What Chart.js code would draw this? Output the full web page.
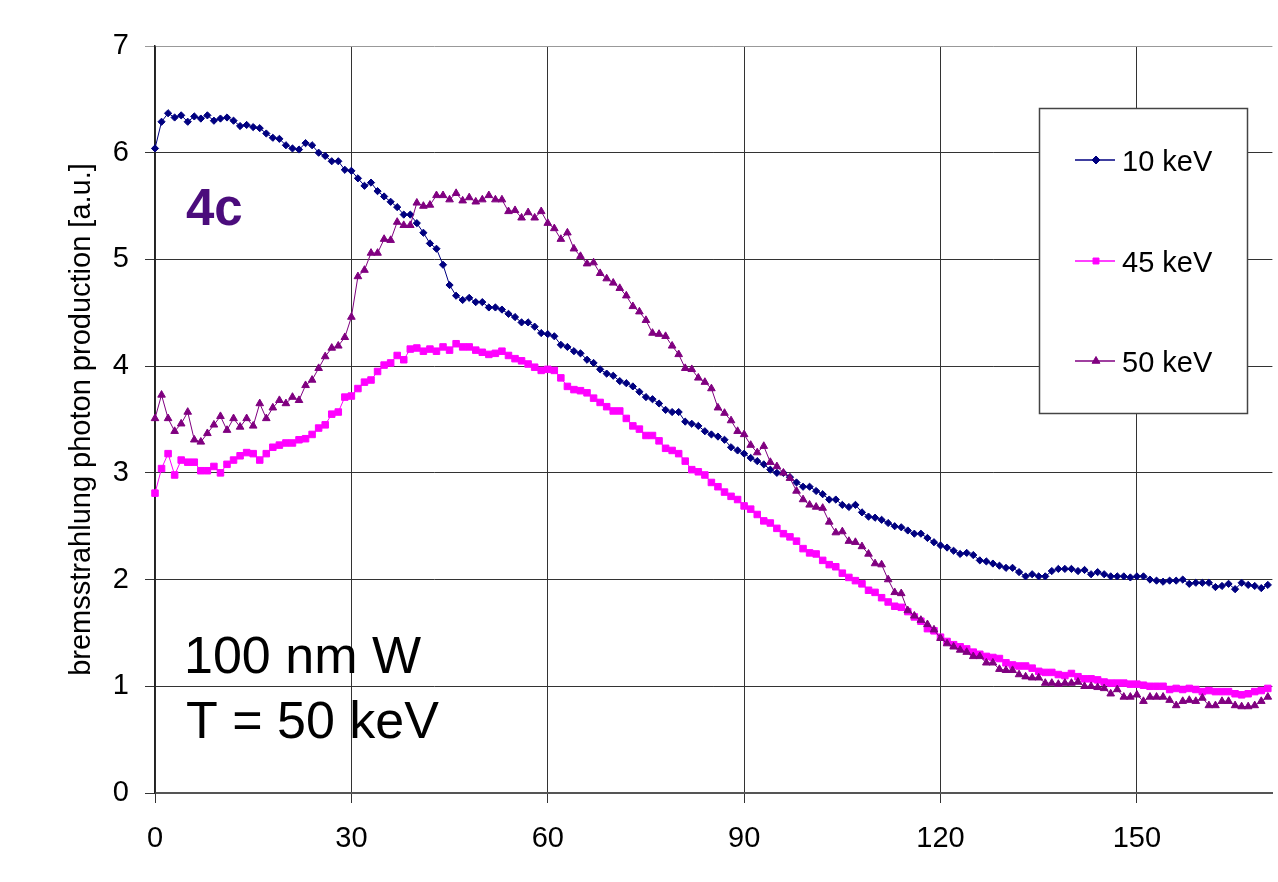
<!DOCTYPE html>
<html><head><meta charset="utf-8">
<script src="https://cdn.jsdelivr.net/npm/chart.js@4.4.1/dist/chart.umd.min.js"></script>
<style>html,body{margin:0;padding:0;background:#fff;overflow:hidden}#wrap{width:1278px;height:882px;position:relative}</style>
</head><body><div id="wrap"><canvas id="c" width="1278" height="882"></canvas></div>
<script>
const depth = [0,1,2,3,4,5,6,7,8,9,10,11,12,13,14,15,16,17,18,19,20,21,22,23,24,25,26,27,28,29,30,31,32,33,34,35,36,37,38,39,40,41,42,43,44,45,46,47,48,49,50,51,52,53,54,55,56,57,58,59,60,61,62,63,64,65,66,67,68,69,70,71,72,73,74,75,76,77,78,79,80,81,82,83,84,85,86,87,88,89,90,91,92,93,94,95,96,97,98,99,100,101,102,103,104,105,106,107,108,109,110,111,112,113,114,115,116,117,118,119,120,121,122,123,124,125,126,127,128,129,130,131,132,133,134,135,136,137,138,139,140,141,142,143,144,145,146,147,148,149,150,151,152,153,154,155,156,157,158,159,160,161,162,163,164,165,166,167,168,169,170];

const keV10 = [6.04,6.29,6.37,6.33,6.35,6.29,6.34,6.32,6.35,6.30,6.32,6.33,6.30,6.25,6.26,6.24,6.23,6.18,6.14,6.13,6.07,6.04,6.03,6.09,6.07,6.00,5.97,5.92,5.92,5.84,5.83,
5.76,5.69,5.72,5.64,5.59,5.54,5.49,5.42,5.42,5.34,5.25,5.15,5.10,4.95,4.76,4.66,4.62,4.64,4.60,4.60,4.55,4.55,4.53,4.49,4.46,4.41,4.41,4.37,4.31,
4.30,4.28,4.20,4.18,4.14,4.12,4.06,4.03,3.97,3.93,3.91,3.86,3.84,3.81,3.76,3.71,3.69,3.65,3.59,3.57,3.57,3.48,3.46,3.44,3.39,3.36,3.34,3.31,3.24,3.21,3.18,
3.14,3.11,3.08,3.03,3.00,3.00,2.96,2.91,2.87,2.87,2.83,2.80,2.75,2.75,2.70,2.68,2.70,2.63,2.59,2.58,2.56,2.53,2.50,2.49,2.46,2.43,2.43,2.39,2.35,
2.32,2.30,2.27,2.24,2.25,2.23,2.18,2.17,2.15,2.13,2.11,2.11,2.07,2.03,2.05,2.03,2.03,2.08,2.10,2.10,2.10,2.08,2.09,2.05,2.07,2.05,2.03,2.03,2.03,2.02,
2.03,2.03,2.00,1.99,1.98,1.99,1.99,2.00,1.96,1.97,1.97,1.97,1.93,1.94,1.96,1.91,1.97,1.95,1.94,1.92,1.95];

const keV45 = [2.81,3.04,3.18,2.98,3.12,3.10,3.10,3.02,3.02,3.06,3.00,3.08,3.12,3.16,3.19,3.18,3.12,3.18,3.24,3.26,3.28,3.28,3.31,3.32,3.36,3.42,3.45,3.55,3.57,3.71,3.72,
3.79,3.85,3.87,3.95,4.01,4.03,4.10,4.06,4.16,4.17,4.14,4.16,4.14,4.18,4.15,4.21,4.18,4.18,4.15,4.13,4.11,4.12,4.14,4.10,4.07,4.05,4.02,3.99,3.96,
3.97,3.96,3.89,3.81,3.78,3.77,3.75,3.70,3.66,3.62,3.58,3.58,3.51,3.44,3.41,3.35,3.35,3.30,3.23,3.21,3.18,3.11,3.03,3.01,2.98,2.91,2.87,2.82,2.78,2.75,2.69,
2.66,2.61,2.55,2.53,2.48,2.43,2.40,2.36,2.29,2.25,2.24,2.18,2.14,2.12,2.06,2.02,1.99,1.96,1.90,1.88,1.83,1.79,1.75,1.74,1.70,1.65,1.61,1.54,1.52,
1.46,1.42,1.39,1.37,1.35,1.32,1.30,1.28,1.27,1.26,1.22,1.20,1.19,1.19,1.17,1.14,1.13,1.13,1.11,1.10,1.12,1.09,1.07,1.07,1.06,1.04,1.03,1.03,1.03,1.02,
1.02,1.01,1.00,1.00,1.00,0.97,0.98,0.97,0.98,0.97,0.95,0.96,0.95,0.95,0.95,0.93,0.92,0.93,0.95,0.96,0.98];

const keV50 = [3.51,3.73,3.51,3.39,3.46,3.57,3.31,3.29,3.37,3.45,3.53,3.40,3.51,3.43,3.51,3.44,3.65,3.51,3.61,3.68,3.65,3.71,3.68,3.82,3.87,3.98,4.09,4.17,4.19,4.27,4.46,
4.84,4.90,5.06,5.06,5.19,5.18,5.35,5.32,5.32,5.53,5.50,5.51,5.60,5.60,5.56,5.62,5.55,5.58,5.54,5.56,5.60,5.56,5.56,5.45,5.46,5.39,5.44,5.39,5.45,5.34,
5.29,5.19,5.25,5.10,5.03,4.96,4.97,4.87,4.82,4.78,4.73,4.66,4.56,4.51,4.43,4.31,4.30,4.28,4.19,4.11,3.98,3.97,3.89,3.85,3.79,3.61,3.56,3.49,3.39,3.36,
3.26,3.19,3.25,3.10,3.06,3.00,2.95,2.83,2.75,2.70,2.68,2.67,2.54,2.44,2.45,2.36,2.35,2.31,2.24,2.15,2.14,2.00,1.88,1.87,1.71,1.66,1.62,1.58,1.53,
1.45,1.40,1.37,1.34,1.32,1.28,1.28,1.22,1.22,1.16,1.15,1.15,1.11,1.09,1.08,1.08,1.03,1.03,1.02,1.03,1.03,1.04,1.00,1.00,0.99,0.98,0.93,0.97,0.90,0.90,
0.92,0.86,0.90,0.90,0.90,0.87,0.82,0.86,0.87,0.86,0.89,0.82,0.82,0.86,0.86,0.82,0.81,0.81,0.82,0.86,0.90];

const seriesNames = ['10 keV', '45 keV', '50 keV'];
const xTicks = [0, 30, 60, 90, 120, 150];
const yTicks = [0, 1, 2, 3, 4, 5, 6, 7];
const yTitle = 'bremsstrahlung photon production [a.u.]';
const panelLabel = '4c';
const noteLines = ['100 nm W', 'T = 50 keV'];

const FONT = '"Liberation Sans", Arial, Helvetica, sans-serif';
const colors = ['#000080', '#FF00FF', '#800080'];
const styles = ['rectRot', 'rect', 'triangle'];

function pts(arr){ return depth.map((x, i) => ({x: x, y: arr[i]})); }

function drawMarker(ctx, style, x, y, r){
  ctx.beginPath();
  if (style === 'rectRot'){
    ctx.moveTo(x, y - r); ctx.lineTo(x + r, y); ctx.lineTo(x, y + r); ctx.lineTo(x - r, y);
  } else if (style === 'rect'){
    const s = r * Math.SQRT1_2;
    ctx.rect(x - s, y - s, 2 * s, 2 * s);
  } else {
    ctx.moveTo(x, y - r);
    ctx.lineTo(x + r * 0.866, y + r * 0.5);
    ctx.lineTo(x - r * 0.866, y + r * 0.5);
  }
  ctx.closePath();
  ctx.fill();
  ctx.stroke();
}

const overlay = {
  id: 'overlay',
  beforeDraw(chart){
    const ctx = chart.ctx;
    ctx.save();
    ctx.fillStyle = '#ffffff';
    ctx.fillRect(0, 0, chart.width, chart.height);
    ctx.restore();
  },
  afterDraw(chart){
    const ctx = chart.ctx;
    const area = chart.chartArea;
    ctx.save();
    // y axis title
    ctx.save();
    ctx.translate(82, (area.top + area.bottom) / 2);
    ctx.rotate(-Math.PI / 2);
    ctx.font = '29px ' + FONT;
    ctx.fillStyle = '#000';
    ctx.textAlign = 'center';
    ctx.textBaseline = 'middle';
    ctx.fillText(yTitle, 0, 0);
    ctx.restore();

    // panel label
    ctx.font = 'bold 51px ' + FONT;
    ctx.fillStyle = '#4B0C7C';
    ctx.textAlign = 'left';
    ctx.textBaseline = 'alphabetic';
    ctx.fillText(panelLabel, 186, 225);

    // notes
    ctx.font = '52px ' + FONT;
    ctx.fillStyle = '#000';
    ctx.fillText(noteLines[0], 184, 673);
    ctx.fillText(noteLines[1], 186, 738);

    // legend
    ctx.fillStyle = '#ffffff';
    ctx.fillRect(1039.5, 108.5, 208, 305);
    ctx.strokeStyle = '#444';
    ctx.lineWidth = 1.5;
    ctx.strokeRect(1039.5, 108.5, 208, 305);
    const ly = [160, 261, 361];
    const mr = [4, 4.2, 4.5];
    seriesNames.forEach((name, i) => {
      ctx.strokeStyle = colors[i];
      ctx.lineWidth = 1.5;
      ctx.beginPath();
      ctx.moveTo(1075, ly[i]);
      ctx.lineTo(1115, ly[i]);
      ctx.stroke();
      ctx.fillStyle = colors[i];
      ctx.lineWidth = 1;
      drawMarker(ctx, styles[i], 1096, ly[i], mr[i]);
      ctx.fillStyle = '#000';
      ctx.font = '29px ' + FONT;
      ctx.textBaseline = 'alphabetic';
      ctx.fillText(name, 1122, ly[i] + 11);
    });
    ctx.restore();
  }
};

const seriesData = [keV10, keV45, keV50];
const radii = [3.6, 4.6, 4.4];
const datasets = seriesData.map((arr, i) => ({
  label: seriesNames[i],
  data: pts(arr),
  borderColor: colors[i],
  backgroundColor: colors[i],
  pointBackgroundColor: colors[i],
  pointBorderColor: colors[i],
  borderWidth: 1,
  pointStyle: styles[i],
  pointRadius: radii[i],
  pointBorderWidth: 1,
  tension: 0,
  clip: false,
  order: 2 - i
}));

new Chart(document.getElementById('c'), {
  type: 'line',
  data: { datasets: datasets },
  options: {
    responsive: false,
    animation: false,
    devicePixelRatio: 1,
    layout: { padding: { top: 46, left: 0, right: 0, bottom: 0 } },
    plugins: { legend: { display: false }, tooltip: { enabled: false }, title: { display: false } },
    elements: { line: { fill: false } },
    scales: {
      x: {
        type: 'linear',
        min: 0,
        max: 170.7,
        afterBuildTicks: (s) => { s.ticks = xTicks.map(v => ({value: v})); },
        afterFit: (s) => { s.height = 89; },
        ticks: { font: { family: FONT, size: 29 }, color: '#000', padding: 19, maxRotation: 0, autoSkip: false },
        grid: { color: '#333', lineWidth: 1, tickLength: 10, drawTicks: true },
        border: { color: '#555', width: 2 }
      },
      y: {
        type: 'linear',
        min: 0,
        max: 7,
        afterBuildTicks: (s) => { s.ticks = yTicks.map(v => ({value: v})); },
        afterFit: (s) => { s.width = 155; },
        ticks: { font: { family: FONT, size: 29 }, color: '#000', padding: 16 },
        grid: { color: (c) => (c.tick && c.tick.value === 7) ? '#999' : '#333', lineWidth: 1, tickLength: 10, drawTicks: true },
        border: { color: '#222', width: 1.5 }
      }
    }
  },
  plugins: [overlay]
});
</script>
</body></html>
